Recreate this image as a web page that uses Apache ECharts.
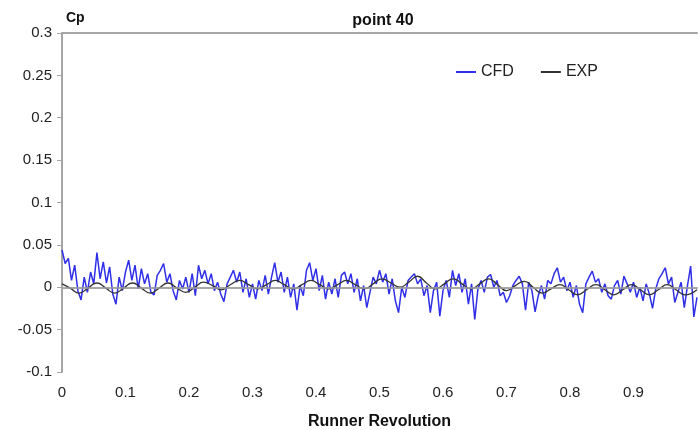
<!DOCTYPE html>
<html>
<head>
<meta charset="utf-8">
<title>point 40</title>
<script src="https://cdn.jsdelivr.net/npm/echarts@6/dist/echarts.min.js"></script>
<style>
  html, body { margin: 0; padding: 0; background: #fff; }
  #main { width: 698px; height: 430px; }
</style>
</head>
<body>
<div id="main"></div>
<script>
// x ticks (runner revolution) and y ticks (Cp)
var xTicks = [0, 0.1, 0.2, 0.3, 0.4, 0.5, 0.6, 0.7, 0.8, 0.9, 1];
var yTicks = [-0.1, -0.05, 0, 0.05, 0.1, 0.15, 0.2, 0.25, 0.3];

var cfdX = [
  0.000, 0.005, 0.010, 0.015, 0.020, 0.025, 0.030, 0.035, 0.040, 0.045,
  0.050, 0.055, 0.060, 0.065, 0.070, 0.075, 0.080, 0.085, 0.090, 0.095,
  0.100, 0.105, 0.110, 0.115, 0.120, 0.125, 0.130, 0.135, 0.140, 0.145,
  0.150, 0.155, 0.160, 0.165, 0.170, 0.175, 0.180, 0.185, 0.190, 0.195,
  0.200, 0.205, 0.210, 0.215, 0.220, 0.225, 0.230, 0.235, 0.240, 0.245,
  0.250, 0.255, 0.260, 0.265, 0.270, 0.275, 0.280, 0.285, 0.290, 0.295,
  0.300, 0.305, 0.310, 0.315, 0.320, 0.325, 0.330, 0.335, 0.340, 0.345,
  0.350, 0.355, 0.360, 0.365, 0.370, 0.375, 0.380, 0.385, 0.390, 0.395,
  0.400, 0.405, 0.410, 0.415, 0.420, 0.425, 0.430, 0.435, 0.440, 0.445,
  0.450, 0.455, 0.460, 0.465, 0.470, 0.475, 0.480, 0.485, 0.490, 0.495,
  0.500, 0.505, 0.510, 0.515, 0.520, 0.525, 0.530, 0.535, 0.540, 0.545,
  0.550, 0.555, 0.560, 0.565, 0.570, 0.575, 0.580, 0.585, 0.590, 0.595,
  0.600, 0.605, 0.610, 0.615, 0.620, 0.625, 0.630, 0.635, 0.640, 0.645,
  0.650, 0.655, 0.660, 0.665, 0.670, 0.675, 0.680, 0.685, 0.690, 0.695,
  0.700, 0.705, 0.710, 0.715, 0.720, 0.725, 0.730, 0.735, 0.740, 0.745,
  0.750, 0.755, 0.760, 0.765, 0.770, 0.775, 0.780, 0.785, 0.790, 0.795,
  0.800, 0.805, 0.810, 0.815, 0.820, 0.825, 0.830, 0.835, 0.840, 0.845,
  0.850, 0.855, 0.860, 0.865, 0.870, 0.875, 0.880, 0.885, 0.890, 0.895,
  0.900, 0.905, 0.910, 0.915, 0.920, 0.925, 0.930, 0.935, 0.940, 0.945,
  0.950, 0.955, 0.960, 0.965, 0.970, 0.975, 0.980, 0.985, 0.990, 0.995,
  1.000
];
var cfdY = [
  0.044, 0.028, 0.034, 0.008, 0.026, -0.004, -0.015, 0.012, -0.006, 0.018,
  0.004, 0.041, 0.010, 0.030, 0.005, 0.024, -0.008, -0.020, 0.012, -0.004,
  0.018, 0.032, 0.008, 0.026, -0.002, 0.022, 0.004, 0.016, -0.006, -0.009,
  0.014, 0.020, 0.028, 0.006, 0.016, -0.004, -0.015, 0.008, -0.002, 0.012,
  -0.006, 0.016, -0.010, 0.026, 0.010, 0.020, 0.004, 0.016, -0.004, 0.006,
  -0.008, -0.017, 0.004, 0.012, 0.020, 0.006, 0.018, -0.006, 0.010, -0.012,
  0.004, -0.014, 0.008, -0.004, 0.014, -0.008, 0.012, 0.029, 0.006, 0.018,
  -0.006, 0.012, -0.012, 0.004, -0.027, 0.002, -0.010, 0.020, 0.029, 0.008,
  0.022, -0.004, 0.014, -0.014, 0.006, -0.008, 0.010, -0.012, 0.014, 0.018,
  0.004, 0.016, -0.006, 0.010, -0.016, 0.002, -0.024, -0.006, 0.012, 0.004,
  0.020, 0.006, 0.016, -0.008, 0.010, -0.016, -0.030, 0.000, -0.012, 0.008,
  0.012, 0.016, 0.004, 0.010, -0.010, 0.002, -0.030, -0.004, 0.006, -0.034,
  -0.004, 0.008, -0.012, 0.020, 0.002, 0.016, -0.006, 0.010, -0.020, 0.004,
  -0.038, -0.002, 0.008, -0.006, 0.012, 0.015, 0.000, 0.008, -0.010, -0.006,
  -0.018, -0.010, 0.002, 0.008, 0.013, 0.004, -0.027, 0.006, -0.004, -0.029,
  -0.010, 0.002, -0.014, 0.008, 0.004, 0.016, 0.023, 0.006, 0.012, -0.004,
  0.006, -0.012, 0.002, -0.020, -0.030, 0.004, 0.012, 0.019, 0.006, 0.010,
  -0.006, 0.004, -0.010, -0.014, 0.002, 0.008, -0.008, 0.013, 0.004, -0.006,
  0.006, -0.012, 0.000, -0.016, 0.004, -0.008, -0.025, -0.002, 0.010, 0.016,
  0.023, 0.004, 0.012, -0.018, -0.006, 0.006, -0.024, 0.002, 0.025, -0.035,
  -0.012
];

// EXP: peaks, zero crossings and troughs of the measured signal
var expX = [
  0.000, 0.013, 0.027, 0.041, 0.055, 0.069, 0.083, 0.097, 0.111, 0.125,
  0.139, 0.153, 0.167, 0.181, 0.195, 0.209, 0.223, 0.237, 0.251, 0.265,
  0.280, 0.294, 0.308, 0.322, 0.336, 0.350, 0.364, 0.378, 0.392, 0.406,
  0.420, 0.434, 0.448, 0.462, 0.476, 0.490, 0.504, 0.518, 0.532, 0.546,
  0.560, 0.574, 0.588, 0.602, 0.616, 0.630, 0.644, 0.658, 0.672, 0.686,
  0.700, 0.714, 0.728, 0.742, 0.756, 0.770, 0.784, 0.798, 0.812, 0.826,
  0.841, 0.855, 0.869, 0.883, 0.897, 0.911, 0.925, 0.939, 0.953, 0.967,
  0.981, 1.000
];
var expY = [
  0.004, -0.001, -0.007, -0.001, 0.005, -0.001, -0.007, -0.001, 0.005, -0.001,
  -0.007, -0.001, 0.005, -0.001, -0.006, 0.000, 0.006, 0.002, -0.003, 0.003,
  0.008, 0.003, -0.002, 0.003, 0.008, 0.003, -0.002, 0.003, 0.008, 0.003,
  -0.002, 0.003, 0.008, 0.003, -0.002, 0.004, 0.010, 0.005, 0.000, 0.006,
  0.013, 0.005, -0.002, 0.004, 0.010, 0.004, -0.002, 0.004, 0.010, 0.003,
  -0.004, 0.002, 0.007, 0.000, -0.007, -0.002, 0.003, -0.003, -0.009, -0.003,
  0.003, -0.003, -0.009, -0.003, 0.003, -0.003, -0.009, -0.003, 0.003, -0.003,
  -0.009, -0.003
];

function pairs(xs, ys) {
  var out = [];
  for (var i = 0; i < xs.length; i++) {
    out.push([xs[i], ys[i]]);
  }
  return out;
}

var font = "Liberation Sans, Arial, sans-serif";
var axisGrey = "#a6a6a6";

var myChart = echarts.init(document.getElementById("main"), null, { renderer: "canvas" });

var option = {
  animation: false,
  backgroundColor: "#ffffff",
  textStyle: { fontFamily: font },
  title: {
    text: "point 40",
    left: 378,
    top: 8,
    textAlign: "center",
    textStyle: { fontSize: 16, fontWeight: "bold", color: "#111", fontFamily: font }
  },
  legend: {
    left: 451,
    top: 59,
    itemGap: 27,
    itemWidth: 20,
    itemHeight: 2,
    icon: "rect",
    textStyle: { fontSize: 16, color: "#222", fontFamily: font },
    data: ["CFD", "EXP"]
  },
  grid: {
    left: 62,
    right: 1,
    top: 33,
    bottom: 58,
    outerBoundsMode: "none",
    containLabel: false
  },
  xAxis: [
    {
      type: "value",
      min: xTicks[0],
      max: xTicks[xTicks.length - 1],
      interval: 0.1,
      name: "Runner Revolution",
      nameLocation: "middle",
      nameGap: 42,
      nameTextStyle: { fontSize: 16, fontWeight: "bold", color: "#111", fontFamily: font },
      axisLine: { show: true, lineStyle: { color: axisGrey, width: 2 } },
      axisTick: { show: false },
      splitLine: { show: false },
      axisLabel: {
        showMaxLabel: false,
        margin: 13,
        fontSize: 15,
        color: "#222",
        fontFamily: font
      }
    },
    {
      type: "value",
      position: "top",
      min: 0,
      max: 1,
      axisLine: { show: true, lineStyle: { color: axisGrey, width: 2 } },
      axisTick: { show: false },
      axisLabel: { show: false },
      splitLine: { show: false }
    }
  ],
  yAxis: {
    type: "value",
    min: yTicks[0],
    max: yTicks[yTicks.length - 1],
    interval: 0.05,
    name: "Cp",
    nameLocation: "end",
    nameGap: 8,
    nameTextStyle: { fontSize: 14, fontWeight: "bold", color: "#111", align: "left", padding: [0, 0, 0, 4], fontFamily: font },
    axisLine: { show: true, onZero: false, lineStyle: { color: axisGrey, width: 2 } },
    axisTick: { show: true, length: 5, lineStyle: { color: axisGrey } },
    splitLine: { show: false },
    axisLabel: { margin: 10, fontSize: 15, color: "#222", fontFamily: font }
  },
  series: [
    {
      name: "CFD",
      type: "line",
      data: pairs(cfdX, cfdY),
      showSymbol: false,
      symbol: "none",
      color: "#2f2fe8",
      lineStyle: { color: "#2f2fe8", width: 1.5 },
      z: 3,
      markLine: {
        silent: true,
        symbol: "none",
        label: { show: false },
        lineStyle: { color: axisGrey, width: 1.5, type: "solid" },
        data: [{ yAxis: 0 }]
      }
    },
    {
      name: "EXP",
      type: "line",
      data: pairs(expX, expY),
      smooth: 0.5,
      showSymbol: false,
      symbol: "none",
      color: "#333333",
      lineStyle: { color: "#333333", width: 1.3 },
      z: 4
    }
  ]
};

myChart.setOption(option);
window.addEventListener("resize", function () {
  myChart.resize();
});
</script>
</body>
</html>
